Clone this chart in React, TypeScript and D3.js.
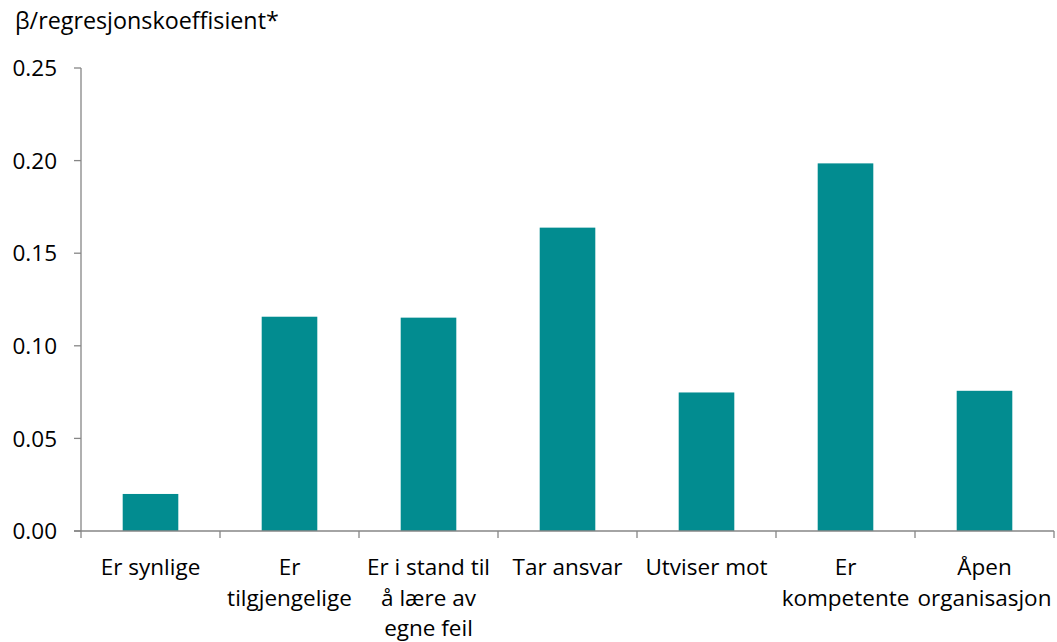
import React from "react";
import * as d3 from "d3";

const categories = ["Er synlige", "Er tilgjengelige", "Er i stand til å lære av egne feil", "Tar ansvar", "Utviser mot", "Er kompetente", "Åpen organisasjon"];
const categoryLines = [["Er synlige"], ["Er", "tilgjengelige"], ["Er i stand til", "å lære av", "egne feil"], ["Tar ansvar"], ["Utviser mot"], ["Er", "kompetente"], ["Åpen", "organisasjon"]];
const values = [0.02, 0.1157, 0.1152, 0.1638, 0.0748, 0.1985, 0.0757];
const yTicks = [0, 0.05, 0.1, 0.15, 0.2, 0.25];
const yTitle = "β/regresjonskoeffisient*";

const W = 1057, H = 642;
const left = 81, right = 1054, top = 68, bottom = 531;
const FONT = "'Open Sans', sans-serif";
const FS = 22.5;
const BAR = "#028C90";
const AXIS = "#868686";

export default function App() {
  const x = d3.scaleBand<string>().domain(categories).range([left, right]).paddingInner(0).paddingOuter(0);
  const y = d3.scaleLinear().domain([0, 0.25]).range([bottom, top]);
  const bw = x.bandwidth();
  const barW = bw / 2.5;
  return (
    <svg width={W} height={H} style={{ position: "absolute", left: 0, top: 0, background: "#fff" }} fontFamily={FONT}>
      <text x={15} y={29} fontSize={23.3} fill="#000">{yTitle}</text>
      {categories.map((c, i) => (
        <rect key={c} x={(x(c) as number) + (bw - barW) / 2} y={y(values[i])} width={barW} height={y(0) - y(values[i])} fill={BAR} />
      ))}
      <line x1={left} x2={left} y1={top} y2={bottom} stroke={AXIS} strokeWidth={1.3} />
      {yTicks.map((t) => (
        <g key={t}>
          <line x1={left - 7} x2={left} y1={y(t)} y2={y(t)} stroke={AXIS} strokeWidth={1.3} />
          <text x={57} y={y(t)} dy="0.36em" textAnchor="end" fontSize={FS} fill="#000">{d3.format(".2f")(t)}</text>
        </g>
      ))}
      <line x1={left - 7} x2={right} y1={bottom} y2={bottom} stroke={AXIS} strokeWidth={1.3} />
      {[...categories.map((c) => x(c) as number), right].map((p, i) => (
        <line key={i} x1={p} x2={p} y1={bottom} y2={bottom + 7} stroke={AXIS} strokeWidth={1.3} />
      ))}
      {categories.map((c, i) => (
        <text key={c} textAnchor="middle" fontSize={FS} fill="#000">
          {categoryLines[i].map((ln, j) => (
            <tspan key={j} x={(x(c) as number) + bw / 2} y={575 + j * 30.5}>{ln}</tspan>
          ))}
        </text>
      ))}
    </svg>
  );
}
